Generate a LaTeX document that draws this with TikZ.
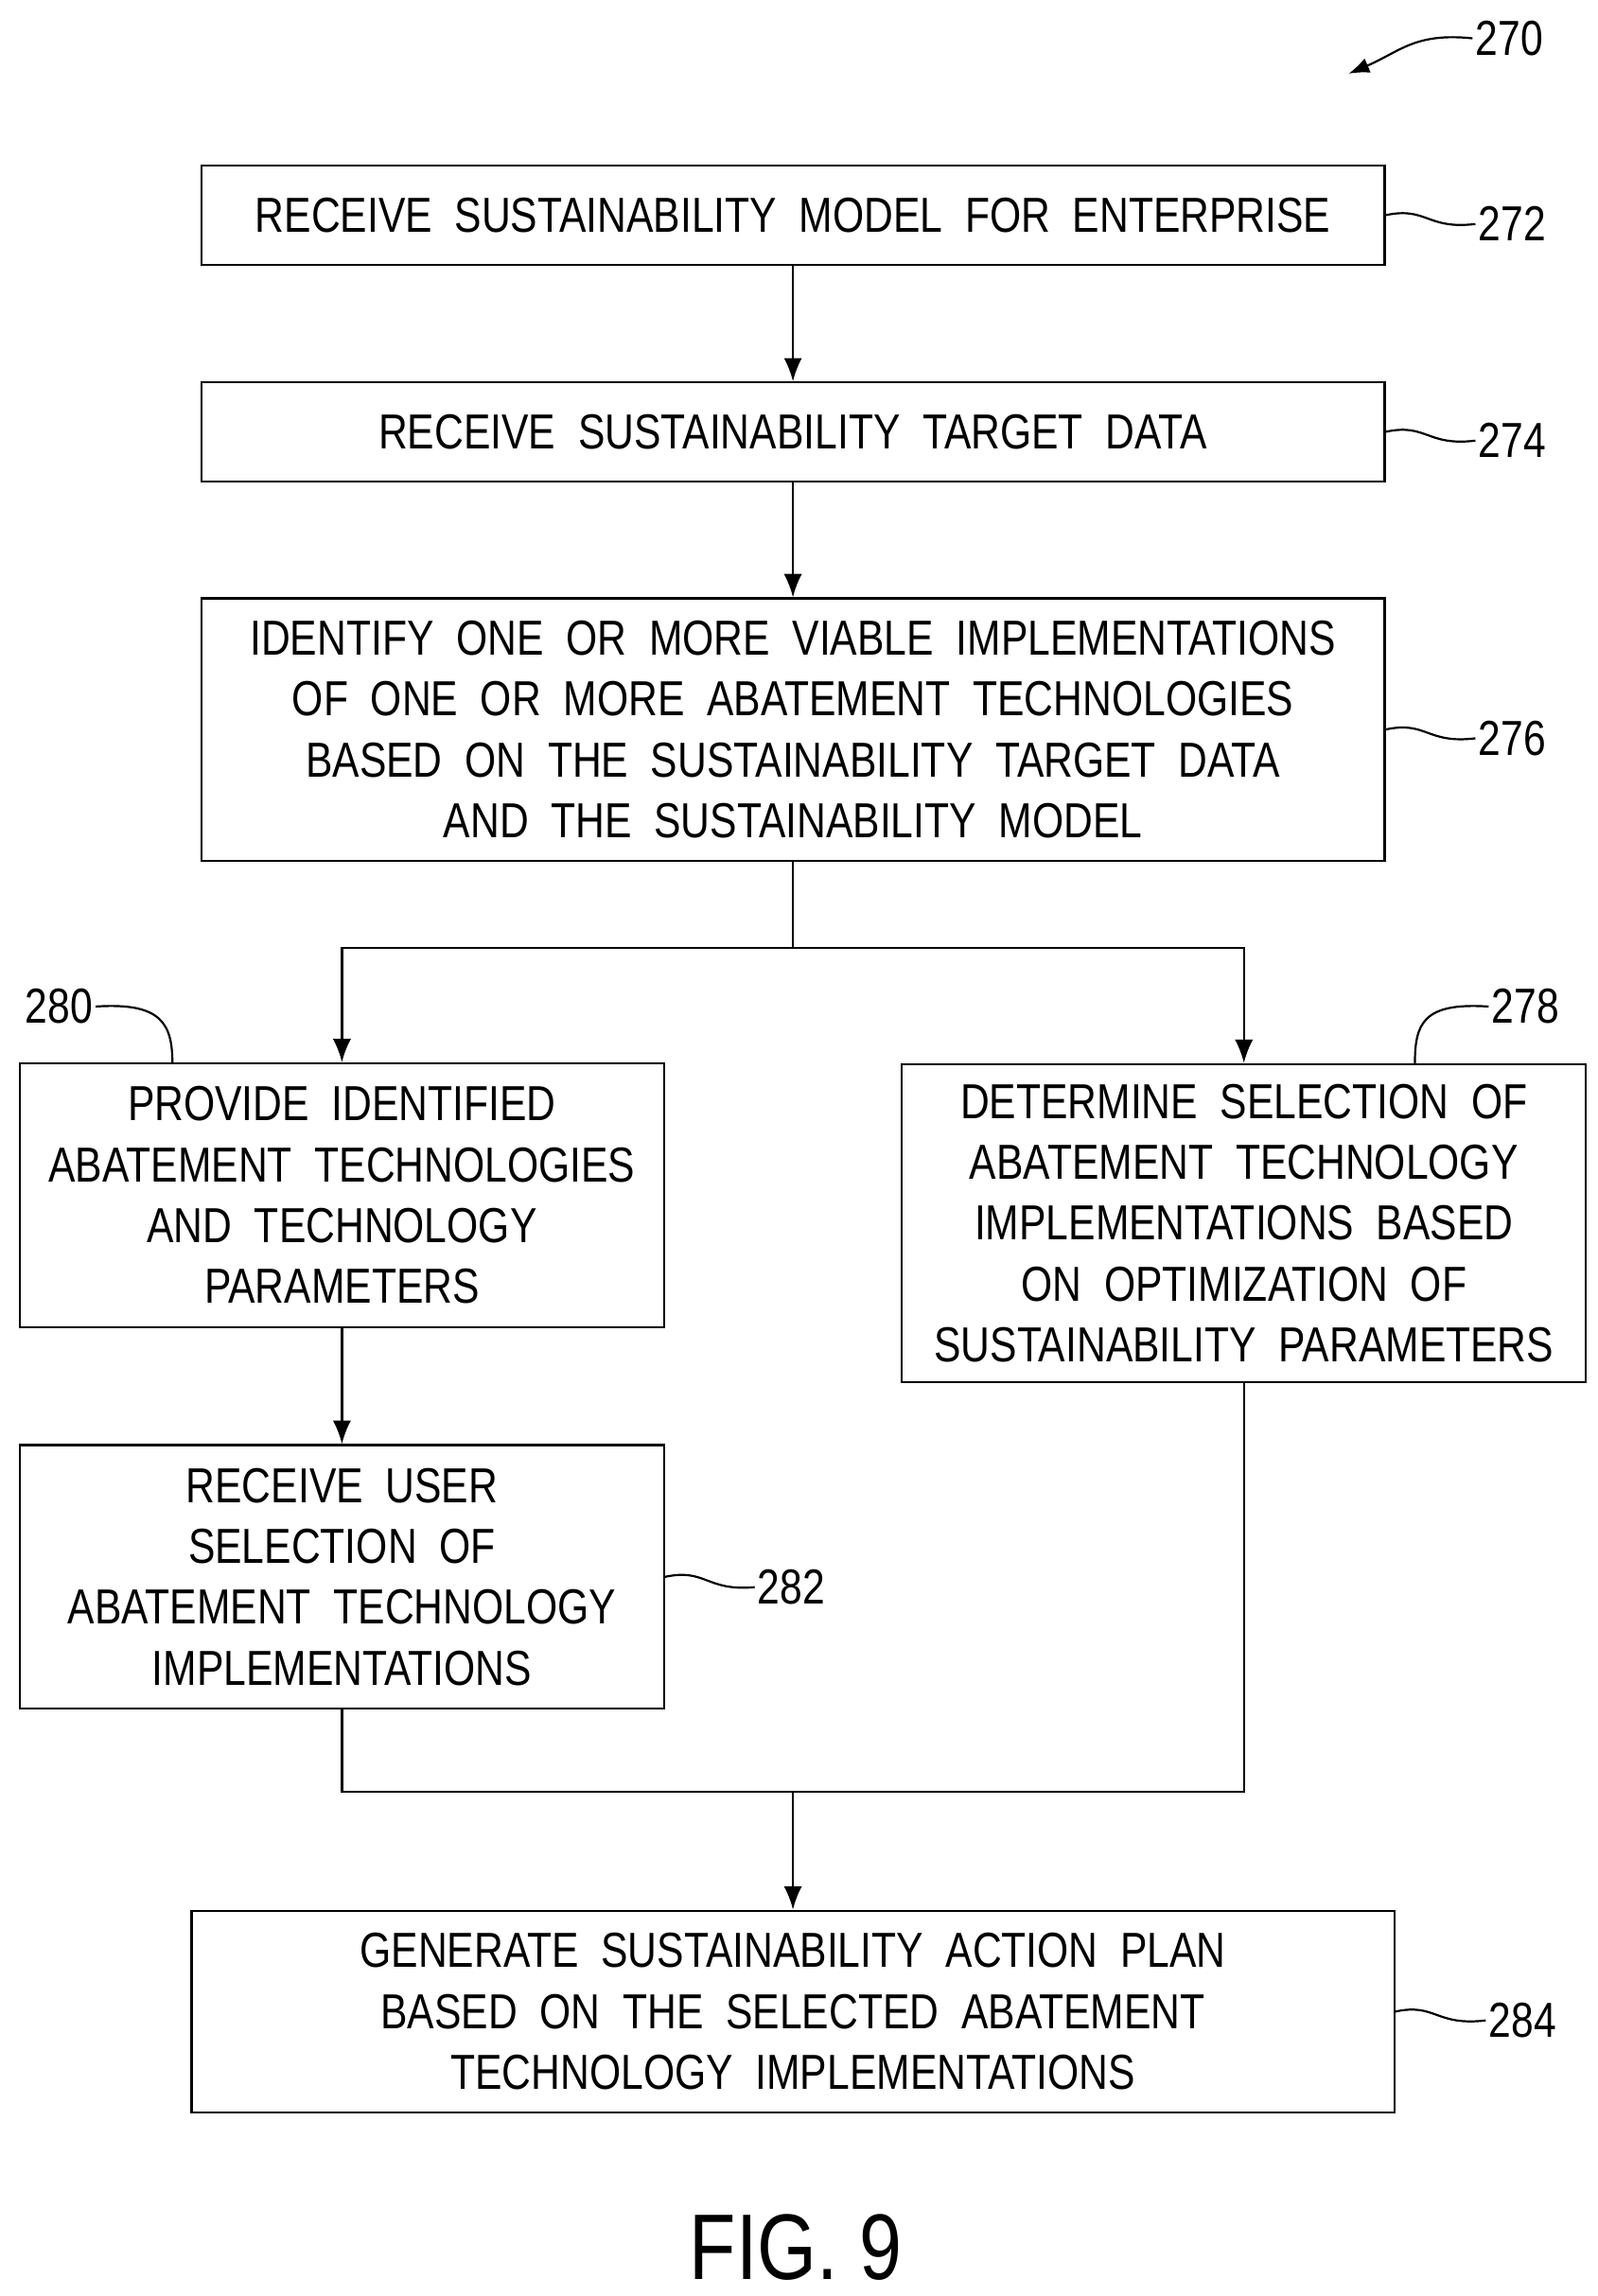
\documentclass[tikz,border=0pt]{standalone}
\usepackage{fontspec}
\setmainfont[FakeStretch=0.82]{Liberation Sans}
\usetikzlibrary{arrows.meta}
\tikzset{
  flowbox/.style={draw=black, thick, rectangle, align=center, inner sep=0pt,
    font=\fontsize{19}{23.5}\selectfont},
  flow/.style={-{Latex[length=9pt,width=7pt]}, thick},
  line/.style={thick},
  refnum/.style={font=\fontsize{19}{23}\selectfont, inner sep=1pt},
  leader/.style={thick}
}
\begin{document}
\begin{tikzpicture}[x=0.02cm, y=-0.02cm]
  \useasboundingbox (0,0) rectangle (1084,1558);

  \node [flowbox, minimum width=803*0.02cm, minimum height=67*0.02cm]
    (recv) at (538,146) {RECEIVE\ \ SUSTAINABILITY\ \ MODEL\ \ FOR\ \ ENTERPRISE};
  \node [flowbox, minimum width=803*0.02cm, minimum height=67*0.02cm] (target) at (538,293)
    {RECEIVE\ \ SUSTAINABILITY\ \ TARGET\ \ DATA};
  \node [flowbox, minimum width=803*0.02cm, minimum height=178*0.02cm] (ident) at (538,495)
    {IDENTIFY\ \ ONE\ \ OR\ \ MORE\ \ VIABLE\ \ IMPLEMENTATIONS\\
     OF\ \ ONE\ \ OR\ \ MORE\ \ ABATEMENT\ \ TECHNOLOGIES\\
     BASED\ \ ON\ \ THE\ \ SUSTAINABILITY\ \ TARGET\ \ DATA\\
     AND\ \ THE\ \ SUSTAINABILITY\ \ MODEL};
  \node [flowbox, minimum width=437*0.02cm, minimum height=179*0.02cm] (provide) at (232,811)
    {PROVIDE\ \ IDENTIFIED\\ ABATEMENT\ \ TECHNOLOGIES\\ AND\ \ TECHNOLOGY\\ PARAMETERS};
  \node [flowbox, minimum width=464*0.02cm, minimum height=216*0.02cm] (determ) at (844,830)
    {DETERMINE\ \ SELECTION\ \ OF\\ ABATEMENT\ \ TECHNOLOGY\\ IMPLEMENTATIONS\ \ BASED\\
     ON\ \ OPTIMIZATION\ \ OF\\ SUSTAINABILITY\ \ PARAMETERS};
  \node [flowbox, minimum width=437*0.02cm, minimum height=179*0.02cm] (user) at (232,1070)
    {RECEIVE\ \ USER\\ SELECTION\ \ OF\\ ABATEMENT\ \ TECHNOLOGY\\ IMPLEMENTATIONS};
  \node [flowbox, minimum width=816*0.02cm, minimum height=137*0.02cm] (plan) at (538,1365)
    {GENERATE\ \ SUSTAINABILITY\ \ ACTION\ \ PLAN\\ BASED\ \ ON\ \ THE\ \ SELECTED\ \ ABATEMENT\\
     TECHNOLOGY\ \ IMPLEMENTATIONS};

  \node [font=\fontsize{36}{40}\selectfont] (fig) at (540,1525) {FIG. 9};

  \coordinate (split) at (538,643);
  \coordinate (join)  at (538,1216);

  \draw [flow] (recv) -- (target);
  \draw [flow] (target) -- (ident);
  \draw [line] (ident.south) -- (split);
  \draw [flow] (split) -| (provide.north);
  \draw [flow] (split) -| (determ.north);
  \draw [flow] (provide) -- (user);
  \draw [line] (user.south) |- (join);
  \draw [line] (determ.south) |- (join);
  \draw [flow] (join) -- (plan.north);

  % reference numerals
  \node [refnum] (n270) at (1024,26)   {270};
  \node [refnum] (n272) at (1026,152)  {272};
  \node [refnum] (n274) at (1026,299)  {274};
  \node [refnum] (n276) at (1026,501)  {276};
  \node [refnum] (n280) at (40,683)    {280};
  \node [refnum] (n278) at (1035,683)  {278};
  \node [refnum] (n282) at (537,1077)  {282};
  \node [refnum] (n284) at (1033,1371) {284};

  \draw [-{Latex[length=8pt,width=6pt]}, thick] (n270.west) .. controls (960,22) and (950,35) .. (915,50);
  \draw [leader] (recv.east)   .. controls (968,140) and (968,156) .. (n272.west);
  \draw [leader] (target.east) .. controls (968,287) and (968,303) .. (n274.west);
  \draw [leader] (ident.east)  .. controls (968,489) and (968,505) .. (n276.west);
  \draw [leader] (n280.east)   .. controls (110,680) and (117,695) .. (117,722);
  \draw [leader] (n278.west)   .. controls (965,680) and (960,695) .. (960,722);
  \draw [leader] (user.east)   .. controls (479,1064) and (479,1080) .. (n282.west);
  \draw [leader] (plan.east)   .. controls (974,1359) and (974,1375) .. (n284.west);
\end{tikzpicture}
\end{document}
